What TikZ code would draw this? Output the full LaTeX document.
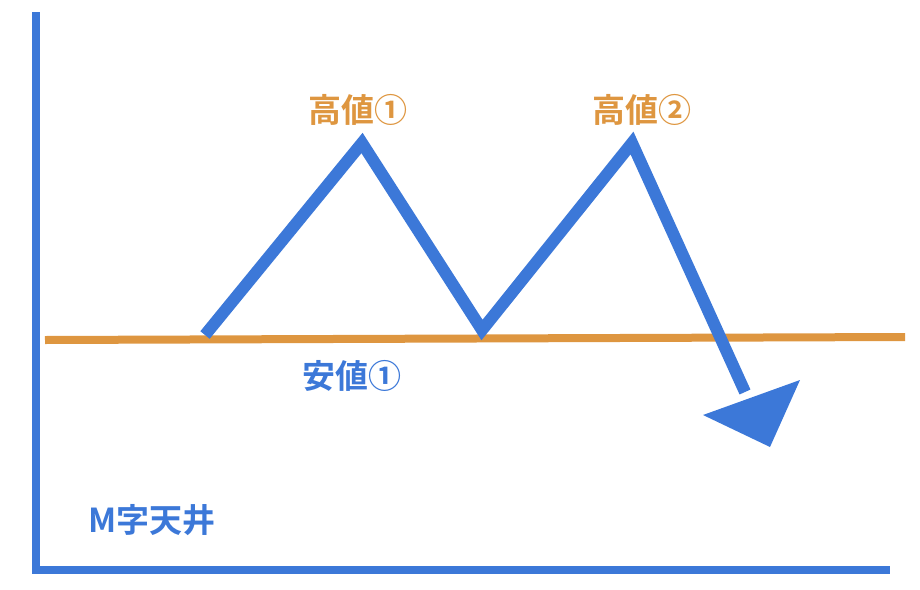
\documentclass[tikz,border=0pt]{standalone}
\usepackage{fontspec}
\newfontfamily\cjk{Noto Sans CJK JP}[BoldFont={Noto Sans CJK JP Bold}]
\definecolor{bl}{HTML}{3C78D8}
\definecolor{or}{HTML}{DE9640}
\begin{document}
\begin{tikzpicture}[x=1pt,y=-1pt,
  lbl/.style={font=\cjk\bfseries\fontsize{33}{36}\selectfont,inner sep=0pt}]
\useasboundingbox (0,0) rectangle (920,589);
\coordinate (top) at (36,12);
\coordinate (org) at (36,570);
\coordinate (rx) at (890,570);
\draw[bl,line width=8pt] (top) -- (org) -- (rx);
\coordinate (l1) at (45,340);
\coordinate (l2) at (905,337);
\draw[or,line width=8pt] (l1) -- (l2);
\coordinate (p0) at (205,335);
\coordinate (p1) at (362,143);
\coordinate (p2) at (482,330);
\coordinate (p3) at (632,143);
\coordinate (p4) at (745,392);
\draw[bl,line width=12pt,line join=miter] (p0) -- (p1) -- (p2) -- (p3) -- (p4);
\fill[bl] (703,415) -- (800,380) -- (770,447) -- cycle;
\node[lbl,text=or] (h1) at (358,110) {高値①};
\node[lbl,text=or] (h2) at (642,110) {高値②};
\node[lbl,text=bl] (y1) at (352,376) {安値①};
\node[lbl,text=bl] (m) at (152,520) {M字天井};
\end{tikzpicture}
\end{document}
